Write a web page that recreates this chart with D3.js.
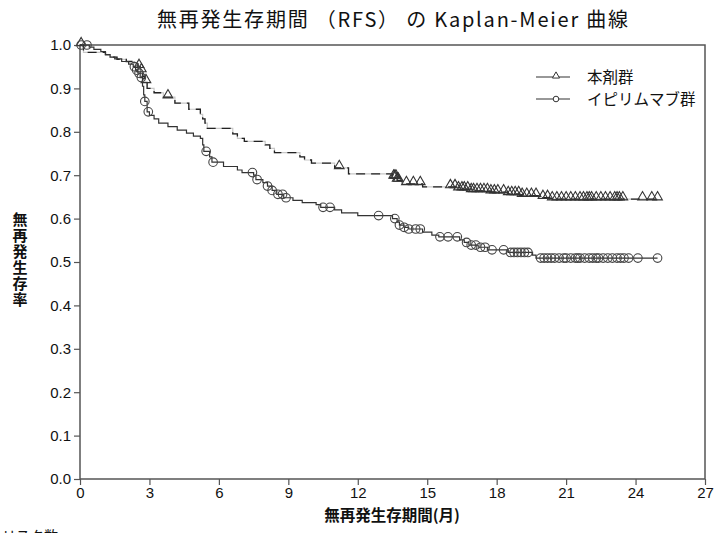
<!DOCTYPE html>
<html>
<head>
<meta charset="utf-8">
<script src="https://cdn.jsdelivr.net/npm/d3@7"></script>
<style>
  html, body { margin: 0; padding: 0; background: #fff; }
  svg { display: block; }
</style>
</head>
<body>
<svg id="chart" width="714" height="533"></svg>
<script>
// Kaplan-Meier estimates: event times (months) and survival after each step
const nivoEventTime = [0.15,1.1,1.3,1.6,2.0,2.35,2.5,2.6,2.7,2.8,2.9,3.2,3.6,4.1,4.7,5.2,5.3,5.4,5.5,6.6,6.8,7.1,8.0,8.2,8.4,9.5,9.7,10.0,11.0,11.6,13.5,13.7,13.9,14.8,16.3,16.9,17.7,18.5,19.0,19.8,20.3];
const nivoSurvival  = [0.983,0.978,0.972,0.967,0.962,0.957,0.95,0.94,0.928,0.915,0.90,0.89,0.88,0.866,0.852,0.84,0.83,0.82,0.808,0.795,0.785,0.778,0.77,0.762,0.752,0.742,0.735,0.728,0.717,0.703,0.695,0.688,0.68,0.673,0.668,0.664,0.661,0.657,0.653,0.648,0.645];
const nivoCensorTime = [0.05,2.55,2.65,2.85,3.8,11.2,13.55,13.6,13.65,13.7,13.75,14.1,14.4,14.7,16.0,16.2,16.35,16.5,16.6,16.75,16.9,17.0,17.15,17.3,17.45,17.6,17.75,17.9,18.05,18.3,18.5,18.65,18.8,18.95,19.1,19.3,19.5,19.7,20.0,20.2,20.4,20.6,20.8,21.0,21.2,21.4,21.6,21.75,21.9,22.0,22.1,22.3,22.5,22.7,22.9,23.1,23.2,23.3,23.45,24.3,24.7,24.95];

const ipiEventTime = [0.4,0.6,0.9,1.1,1.3,1.5,1.8,2.1,2.3,2.4,2.5,2.6,2.7,2.75,2.8,2.9,3.0,3.2,3.4,3.8,4.2,4.6,4.9,5.2,5.3,5.35,5.6,5.7,6.2,6.8,7.0,7.5,7.6,7.9,8.1,8.3,8.5,8.8,9.2,9.6,10.2,10.4,11.0,11.3,12.0,13.5,13.7,13.8,14.0,14.2,14.8,15.2,15.5,16.4,16.6,16.8,17.2,17.6,18.5,19.55,19.7];
const ipiSurvival  = [0.995,0.99,0.985,0.978,0.972,0.968,0.962,0.956,0.95,0.942,0.935,0.925,0.905,0.885,0.87,0.846,0.838,0.83,0.82,0.812,0.804,0.797,0.79,0.785,0.77,0.755,0.742,0.73,0.72,0.712,0.706,0.7,0.69,0.683,0.675,0.665,0.656,0.648,0.642,0.637,0.632,0.626,0.62,0.613,0.607,0.6,0.592,0.585,0.58,0.576,0.569,0.562,0.558,0.551,0.545,0.539,0.534,0.528,0.522,0.516,0.509];
const ipiCensorTime = [0.05,0.3,2.35,2.45,2.55,2.65,2.8,2.95,5.45,5.75,7.45,7.65,8.1,8.3,8.55,8.75,8.9,10.5,10.8,12.9,13.6,13.8,14.0,14.2,14.5,14.7,15.55,15.9,16.3,16.7,16.9,17.1,17.3,17.5,17.8,18.3,18.6,18.75,18.9,19.05,19.2,19.35,19.9,20.05,20.2,20.35,20.5,20.7,20.9,21.0,21.2,21.4,21.5,21.6,21.8,22.0,22.15,22.3,22.4,22.6,22.8,23.0,23.2,23.35,23.5,23.7,24.1,24.95];

const followUpEnd = 24.95;
const xTicks = [0,3,6,9,12,15,18,21,24,27];
const yTicks = [0,0.1,0.2,0.3,0.4,0.5,0.6,0.7,0.8,0.9,1.0];
const seriesNames = ["本剤群", "イピリムマブ群"];
const titleText = "無再発生存期間 （RFS） の Kaplan-Meier 曲線";
const xLabel = "無再発生存期間(月)";
const yLabel = "無再発生存率";

const cjk = "'Noto Sans CJK JP', 'Noto Sans', sans-serif";
const latin = "'Liberation Sans', Arial, sans-serif";
const ink = "#333";

const svg = d3.select("#chart");
const m = { left: 80, right: 705, top: 45, bottom: 479 };

const x = d3.scaleLinear().domain([0, 27]).range([m.left, m.right]);
const y = d3.scaleLinear().domain([0, 1]).range([m.bottom, m.top]);

// survival at time t from a step function
function survAt(times, surv, t) {
  let s = 1;
  for (let i = 0; i < times.length; i++) { if (times[i] <= t) s = surv[i]; else break; }
  return s;
}
function stepPoints(times, surv) {
  const pts = [[0, 1]];
  times.forEach((t, i) => pts.push([t, surv[i]]));
  pts.push([followUpEnd, surv[surv.length - 1]]);
  return pts;
}

const line = d3.line().x(d => x(d[0])).y(d => y(d[1])).curve(d3.curveStepAfter);

// axes
const yAxis = d3.axisLeft(y).tickValues(yTicks).tickFormat(d3.format(".1f")).tickSize(6).tickPadding(3);
const xAxis = d3.axisBottom(x).tickValues(xTicks).tickFormat(d3.format("d")).tickSize(6).tickPadding(2);

const gy = svg.append("g").attr("transform", `translate(${m.left},0)`).call(yAxis);
const gx = svg.append("g").attr("transform", `translate(0,${m.bottom})`).call(xAxis);
[gx, gy].forEach(g => {
  g.select(".domain").remove();
  g.selectAll(".tick line").attr("stroke", "#555").attr("stroke-width", 1.2);
  g.selectAll(".tick text").attr("fill", "#111").style("font-family", latin).style("font-size", "15px");
});

// plot frame
svg.append("rect")
  .attr("x", m.left).attr("y", m.top)
  .attr("width", m.right - m.left).attr("height", m.bottom - m.top)
  .attr("fill", "none").attr("stroke", "#555").attr("stroke-width", 1.5);

// nivolumab curve: faint base with dark dashes
const nivoPts = stepPoints(nivoEventTime, nivoSurvival);
svg.append("path").attr("d", line(nivoPts)).attr("fill", "none").attr("stroke", "#c8c8c8").attr("stroke-width", 1.2);
svg.append("path").attr("d", line(nivoPts)).attr("fill", "none").attr("stroke", "#222")
  .attr("stroke-width", 1.3).attr("stroke-dasharray", "9,6");

// ipilimumab curve
svg.append("path").attr("d", line(stepPoints(ipiEventTime, ipiSurvival)))
  .attr("fill", "none").attr("stroke", ink).attr("stroke-width", 1.2);

// censor marks
const tri = d3.symbol().type(d3.symbolTriangle).size(40);
svg.append("g").selectAll("path").data(nivoCensorTime).join("path")
  .attr("d", tri)
  .attr("transform", t => `translate(${x(t)},${y(survAt(nivoEventTime, nivoSurvival, t)) - 2})`)
  .attr("fill", "none").attr("stroke", "#333").attr("stroke-width", 1.1);

svg.append("g").selectAll("circle").data(ipiCensorTime).join("circle")
  .attr("cx", t => x(t)).attr("cy", t => y(survAt(ipiEventTime, ipiSurvival, t)))
  .attr("r", 4.3)
  .attr("fill", "none").attr("stroke", "#444").attr("stroke-width", 1.1);

// legend
const lg = svg.append("g");
const legendRows = [
  { name: seriesNames[0], y: 77, mark: "tri" },
  { name: seriesNames[1], y: 99, mark: "circle" }
];
legendRows.forEach(r => {
  lg.append("line").attr("x1", 536).attr("x2", 570).attr("y1", r.y).attr("y2", r.y)
    .attr("stroke", ink).attr("stroke-width", 1.2);
  if (r.mark === "tri") {
    lg.append("path").attr("d", d3.symbol().type(d3.symbolTriangle).size(22)())
      .attr("transform", `translate(556,${r.y - 1})`)
      .attr("fill", "#fff").attr("stroke", ink).attr("stroke-width", 1);
  } else {
    lg.append("circle").attr("cx", 556).attr("cy", r.y).attr("r", 2.8)
      .attr("fill", "#fff").attr("stroke", ink).attr("stroke-width", 1);
  }
  lg.append("text").attr("x", 587).attr("y", r.y).attr("dy", "0.36em")
    .style("font-family", cjk).style("font-size", "15.5px").attr("fill", "#111").text(r.name);
});

// title
svg.append("text").attr("x", 157).attr("y", 27)
  .attr("textLength", 471).attr("lengthAdjust", "spacing")
  .style("font-family", cjk).style("font-size", "20px").attr("fill", "#111").text(titleText);

// x axis label
svg.append("text").attr("x", 392).attr("y", 521).attr("text-anchor", "middle")
  .style("font-family", cjk).style("font-size", "15.5px").style("font-weight", "bold").attr("fill", "#111")
  .text(xLabel);

// y axis label, set vertically
svg.append("text")
  .attr("x", 20).attr("y", 212)
  .style("writing-mode", "vertical-rl").style("text-orientation", "upright")
  .style("letter-spacing", "1px")
  .style("font-family", cjk).style("font-size", "15px").style("font-weight", "bold").attr("fill", "#111")
  .text(yLabel);

// number-at-risk heading, clipped by the bottom edge
svg.append("text").attr("x", 2).attr("y", 541)
  .style("font-family", cjk).style("font-size", "14px").attr("fill", "#111").text("リスク数");
</script>
</body>
</html>
